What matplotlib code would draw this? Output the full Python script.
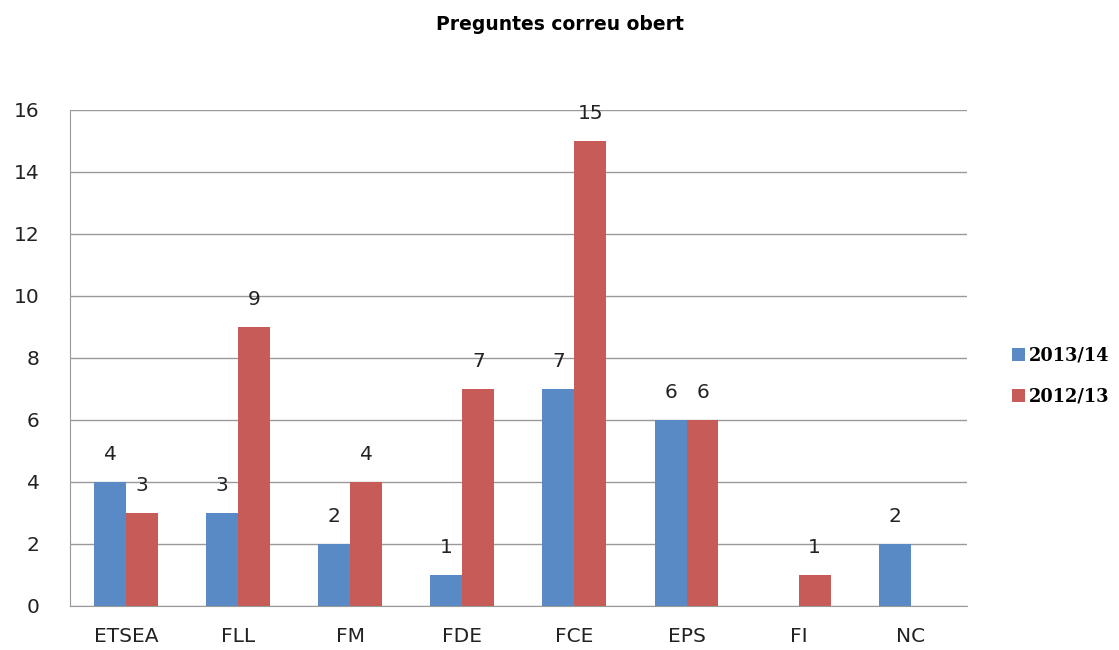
from matplotlib import pyplot as plt
import numpy as np

categories = ['ETSEA', 'FLL', 'FM', 'FDE', 'FCE', 'EPS', 'FI', 'NC']
curs_1314 = [4, 3, 2, 1, 7, 6, 0, 2]
curs_1213 = [3, 9, 4, 7, 15, 6, 1, 0]
series_names = ['2013/14', '2012/13']
yticks = [0, 2, 4, 6, 8, 10, 12, 14, 16]

blue = '#5A8AC6'
red = '#C65B57'

fig = plt.figure(figsize=(11.19, 6.5), dpi=100)
ax = fig.add_axes([0.0625, 0.0677, 0.8015, 0.7631])

x = np.arange(len(categories))
w = 0.285
b1 = ax.bar(x - w / 2, curs_1314, w, color=blue, label=series_names[0])
b2 = ax.bar(x + w / 2, curs_1213, w, color=red, label=series_names[1])

# etiquetes de dades (no es mostren els zeros)
for bars, vals in [(b1, curs_1314), (b2, curs_1213)]:
    for r, v in zip(bars, vals):
        if v == 0:
            continue
        ax.annotate(str(v), (r.get_x() + r.get_width() / 2, v),
                    xytext=(0, 20), textcoords='offset points',
                    ha='center', va='center', fontsize=14.5, color='#222222')

ax.set_xlim(-0.5, len(categories) - 0.5)
ax.set_ylim(0, 16)
ax.set_yticks(yticks)
ax.set_xticks(x)
ax.set_xticklabels(categories)
ax.tick_params(axis='both', length=0, labelsize=14.5, colors='#222222')
ax.tick_params(axis='x', pad=15)
ax.tick_params(axis='y', pad=22)
ax.grid(axis='y', color='#999999', linewidth=1)
ax.set_axisbelow(True)
for s in ['top', 'right']:
    ax.spines[s].set_visible(False)
for s in ['left', 'bottom']:
    ax.spines[s].set_color('#999999')

fig.text(0.5, 0.963, 'Preguntes correu obert', ha='center', va='center',
         fontsize=13.5, fontweight='bold')

fig.legend(loc='center left', bbox_to_anchor=(0.896, 0.4215), frameon=False,
           prop={'family': 'DejaVu Serif', 'weight': 'bold', 'size': 12.8},
           handlelength=0.75, handleheight=0.75, handletextpad=0.25,
           labelspacing=1.3, borderpad=0)

plt.savefig('out.png')
